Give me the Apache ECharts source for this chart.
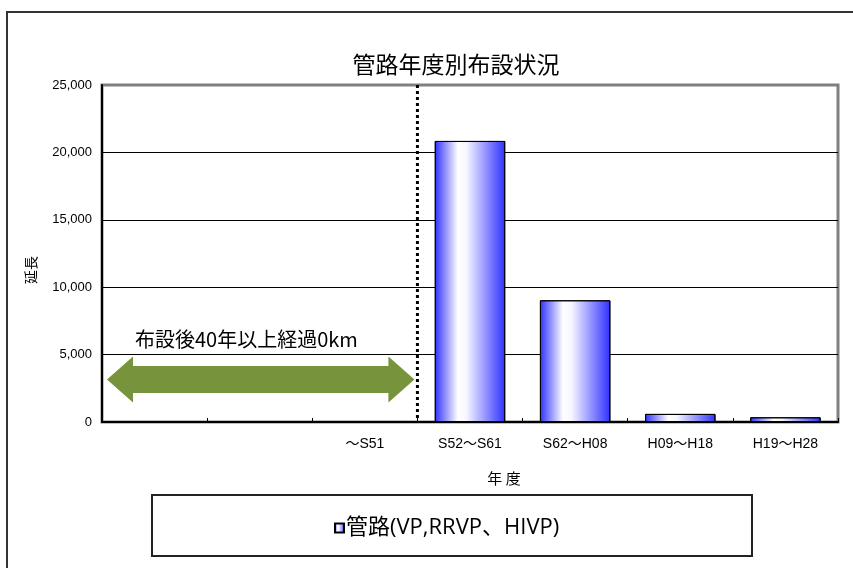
<!DOCTYPE html>
<html>
<head>
<meta charset="utf-8">
<script src="https://cdn.jsdelivr.net/npm/echarts@6/dist/echarts.min.js"></script>
<style>
html,body{margin:0;padding:0;background:#fff;}
#c{width:853px;height:568px;}
</style>
</head>
<body>
<div id="c"></div>
<script>
// ---- data ----
const categories = [' ', '  ', '～S51', 'S52～S61', 'S62～H08', 'H09～H18', 'H19～H28'];
const pipeLength = [null, null, 0, 20850, 9030, 600, 350];
const seriesName = '管路(VP,RRVP、HIVP)';
const titleText = '管路年度別布設状況';
const yAxisName = '延長';
const xAxisName = '年 度';
const noteText = '布設後40年以上経過0km';
const yMin = 0, yMax = 25000, yStep = 5000;
const arrowLevel = 3150;

const FONT = "'Noto Sans CJK JP', sans-serif";
const NUMFONT = "'Liberation Sans', 'Noto Sans CJK JP', sans-serif";
const LEGFONT = "'Open Sans', 'Noto Sans CJK JP', sans-serif";

const barGradient = new echarts.graphic.LinearGradient(0, 0, 1, 0, [
  {offset: 0, color: '#3030ff'},
  {offset: 0.33, color: '#ffffff'},
  {offset: 0.45, color: '#f6f6ff'},
  {offset: 1, color: '#3030ff'}
]);

const chart = echarts.init(document.getElementById('c'), null, {renderer: 'canvas'});
chart.setOption({
  animation: false,
  backgroundColor: '#fff',
  title: {
    text: titleText,
    left: 451, top: 48, textAlign: 'center',
    textStyle: {fontFamily: FONT, fontSize: 23, fontWeight: 'normal', color: '#000'}
  },
  legend: {
    data: [seriesName],
    left: 329, top: 512,
    icon: 'rect', itemWidth: 9, itemHeight: 9, itemGap: 4,
    textStyle: {fontFamily: LEGFONT, fontSize: 22, color: '#000', padding: [0, 0, 0, -3]}
  },
  grid: {
    left: 102, right: 15, top: 85, bottom: 146,
    show: true, borderColor: '#808080', borderWidth: 3, backgroundColor: '#fff'
  },
  xAxis: {
    type: 'category',
    data: categories,
    axisLine: {show: true, lineStyle: {color: '#000', width: 2}},
    axisTick: {show: true, inside: true, length: 4, lineStyle: {color: '#000', width: 1}},
    axisLabel: {fontFamily: NUMFONT, fontSize: 14, color: '#000', margin: 15, interval: 0},
    splitLine: {show: false}
  },
  yAxis: {
    type: 'value',
    min: yMin, max: yMax, interval: yStep,
    axisLine: {show: true, lineStyle: {color: '#000', width: 2}},
    axisTick: {show: false},
    axisLabel: {
      fontFamily: NUMFONT, fontSize: 13, color: '#000', margin: 10,
      formatter: v => v.toLocaleString('en-US')
    },
    splitLine: {show: true, showMaxLine: false, lineStyle: {color: '#000', width: 1}}
  },
  series: [{
    name: seriesName,
    type: 'bar',
    data: pipeLength,
    barWidth: '67%',
    itemStyle: {color: barGradient, borderColor: '#000', borderWidth: 1}
  }]
});

// annotations placed through the chart's own scales
const px = i => chart.convertToPixel({xAxisIndex: 0}, i);
const py = v => chart.convertToPixel({yAxisIndex: 0}, v);
const band = px(1) - px(0);
const leftEdge = px(0) - band / 2;
const boundary = (px(2) + px(3)) / 2;
const yTop = py(yMax), y0 = py(yMin), ay = py(arrowLevel);
const tipL = leftEdge + 5, tipR = boundary - 3;
const hl = 26, hh = 23, sh = 13.5;

chart.setOption({
  graphic: [
    {
      type: 'rect', z: 100,
      shape: {x: 7, y: 12, width: 900, height: 620},
      style: {fill: 'none', stroke: '#333', lineWidth: 2}
    },
    {
      type: 'rect', z: 100,
      shape: {x: 152, y: 495, width: 600, height: 61},
      style: {fill: 'none', stroke: '#222', lineWidth: 2}
    },
    {
      type: 'line', z: 100,
      shape: {x1: boundary, y1: yTop, x2: boundary, y2: y0},
      style: {stroke: '#000', lineWidth: 3, lineDash: [3, 3]}
    },
    {
      type: 'polygon', z: 100,
      shape: {points: [
        [tipL, ay], [tipL + hl, ay - hh], [tipL + hl, ay - sh], [tipR - hl, ay - sh],
        [tipR - hl, ay - hh], [tipR, ay], [tipR - hl, ay + hh], [tipR - hl, ay + sh],
        [tipL + hl, ay + sh], [tipL + hl, ay + hh]
      ]},
      style: {fill: '#77933C'}
    },
    {
      type: 'text', z: 100,
      x: leftEdge + 33, y: ay - 40,
      style: {text: noteText, font: "20px " + FONT, fill: '#000', align: 'left', verticalAlign: 'middle'}
    },
    {
      type: 'text', z: 100,
      x: 504, y: 478,
      style: {text: xAxisName, font: "15px " + FONT, fill: '#000', align: 'center', verticalAlign: 'middle'}
    },
    {
      type: 'text', z: 100,
      x: 31, y: 270, rotation: Math.PI / 2,
      style: {text: yAxisName, font: "14px " + FONT, fill: '#000', align: 'center', verticalAlign: 'middle'}
    }
  ]
});
</script>
</body>
</html>
